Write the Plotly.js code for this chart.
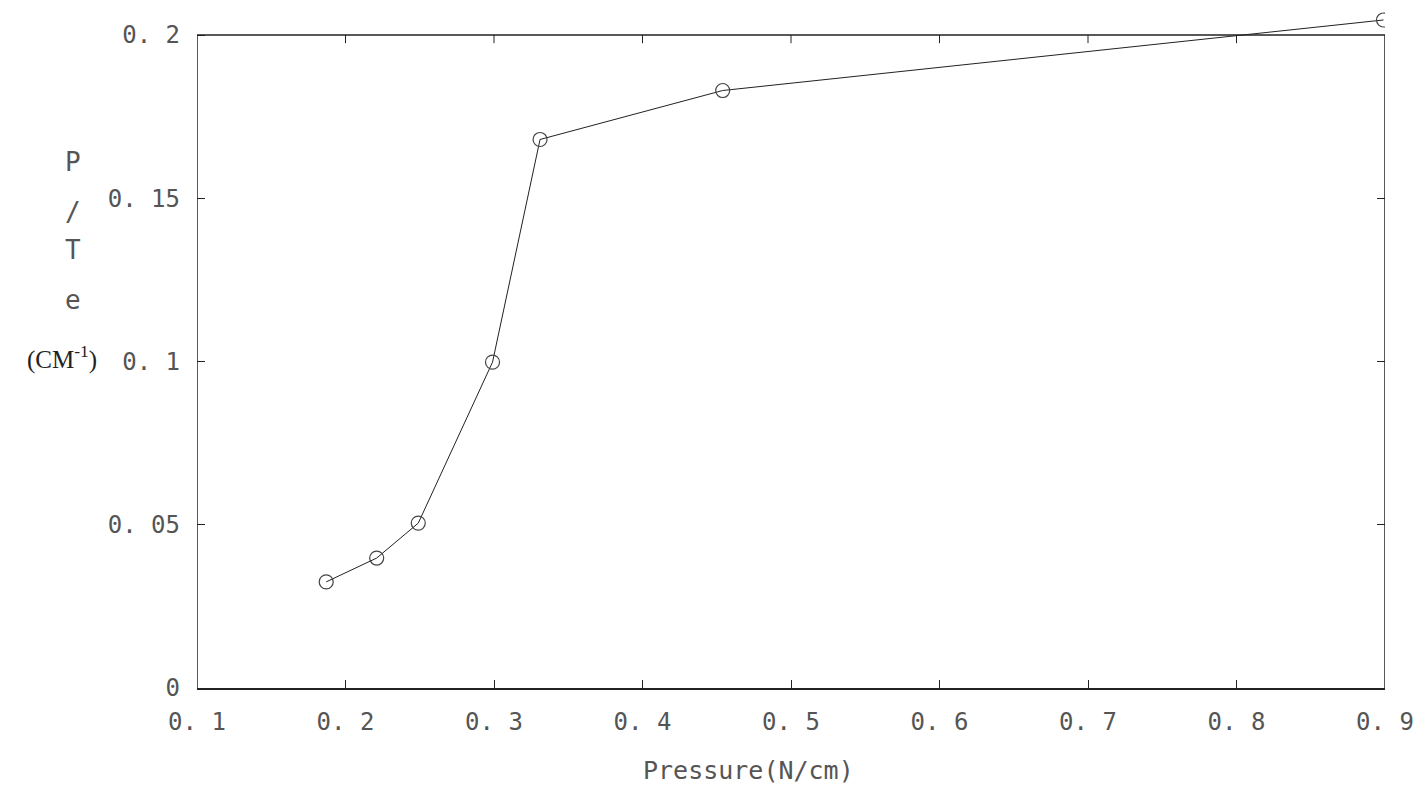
<!DOCTYPE html>
<html>
<head>
<meta charset="utf-8">
<script src="https://cdn.plot.ly/plotly-3.0.1.min.js"></script>
<style>html,body{margin:0;padding:0;background:#fff;}#chart{width:1422px;height:800px;}</style>
</head>
<body>
<div id="chart"></div>
<script>
// Data
const pressure = [0.187, 0.221, 0.249, 0.299, 0.331, 0.454, 0.899];
const pOverTe = [0.0325, 0.0398, 0.0505, 0.0998, 0.168, 0.183, 0.2046];
const xTickVals = [0.1, 0.2, 0.3, 0.4, 0.5, 0.6, 0.7, 0.8, 0.9];
const xTickText = ['0. 1', '0. 2', '0. 3', '0. 4', '0. 5', '0. 6', '0. 7', '0. 8', '0. 9'];
const yTickVals = [0, 0.05, 0.1, 0.15, 0.2];
const yTickText = ['0', '0. 05', '0. 1', '0. 15', '0. 2'];
const yLabelParts = ['P', '/', 'T', 'e'];

const X_MIN = 0.1, X_MAX = 0.9, Y_MIN = 0, Y_TOP = 0.2;
// plot area extends a little above the 0.2 frame so the last point shows
const Y_RANGE_MAX = Y_TOP * 678 / 653;

const tickFont = {family: 'DejaVu Sans Mono', size: 24, color: '#555'};
const labelFont = {family: 'DejaVu Sans Mono', size: 26, color: '#555'};
const frameColor = '#222';

const trace = {
  x: pressure,
  y: pOverTe,
  mode: 'lines+markers',
  type: 'scatter',
  line: {color: '#222', width: 1},
  marker: {symbol: 'circle-open', size: 14, color: '#444', line: {width: 1.2, color: '#444'}},
  showlegend: false
};
// invisible trace on a right-side axis, only to get inward ticks on the right frame
const rightTicks = {
  x: [X_MIN], y: [Y_MIN], yaxis: 'y2', mode: 'markers', type: 'scatter',
  marker: {opacity: 0}, showlegend: false, hoverinfo: 'skip'
};

const yLabelY = [0.776, 0.702, 0.646, 0.572];
const annotations = yLabelParts.map((t, i) => ({
  text: t, xref: 'paper', yref: 'paper', x: -0.104, y: yLabelY[i],
  showarrow: false, font: labelFont, xanchor: 'center', yanchor: 'middle'
}));
annotations.push({
  text: '(CM<sup>-1</sup>)', xref: 'paper', yref: 'paper', x: -0.114, y: 0.488,
  showarrow: false, font: {family: 'Liberation Serif', size: 25, color: '#222'},
  xanchor: 'center', yanchor: 'middle'
});
annotations.push({
  text: 'Pressure(N/cm)', xref: 'paper', yref: 'paper', x: 0.464, y: -0.121,
  showarrow: false, font: {family: 'DejaVu Sans Mono', size: 25, color: '#555'},
  xanchor: 'center', yanchor: 'middle'
});

// frame: top line at y=0.2, left and right lines, plus small inward top ticks
const shapes = [
  {type: 'line', xref: 'x', yref: 'y', x0: X_MIN, x1: X_MAX, y0: Y_TOP, y1: Y_TOP,
   line: {color: frameColor, width: 1.5}},
  {type: 'line', xref: 'x', yref: 'y', x0: X_MAX, x1: X_MAX, y0: Y_MIN, y1: Y_TOP,
   line: {color: frameColor, width: 1.5}},
  {type: 'line', xref: 'x', yref: 'y', x0: X_MIN, x1: X_MIN, y0: Y_MIN, y1: Y_TOP,
   line: {color: frameColor, width: 1.5}}
];
xTickVals.slice(1, -1).forEach(v => {
  shapes.push({type: 'line', xref: 'x', yref: 'y', x0: v, x1: v, y0: Y_TOP, y1: Y_TOP - 0.0025,
    line: {color: frameColor, width: 1}});
});

const layout = {
  width: 1422, height: 800,
  margin: {l: 197, r: 37, t: 10, b: 112},
  paper_bgcolor: '#fff', plot_bgcolor: '#fff',
  xaxis: {
    range: [X_MIN, X_MAX], tickvals: xTickVals, ticktext: xTickText,
    showgrid: false, zeroline: false, showline: true, linecolor: frameColor, linewidth: 1.5,
    ticks: 'inside', ticklen: 8, tickcolor: frameColor,
    tickfont: tickFont, ticklabelstandoff: 12
  },
  yaxis: {
    range: [Y_MIN, Y_RANGE_MAX], tickvals: yTickVals, ticktext: yTickText,
    showgrid: false, zeroline: false, showline: false,
    ticks: 'inside', ticklen: 8, tickcolor: frameColor,
    tickfont: tickFont, ticklabelstandoff: 16
  },
  yaxis2: {
    overlaying: 'y', side: 'right', range: [Y_MIN, Y_RANGE_MAX], tickvals: yTickVals.slice(1, -1),
    showticklabels: false, showgrid: false, zeroline: false, showline: false,
    ticks: 'inside', ticklen: 8, tickcolor: frameColor
  },
  shapes: shapes,
  annotations: annotations
};

Plotly.newPlot('chart', [trace, rightTicks], layout, {displayModeBar: false, staticPlot: true});
</script>
</body>
</html>
